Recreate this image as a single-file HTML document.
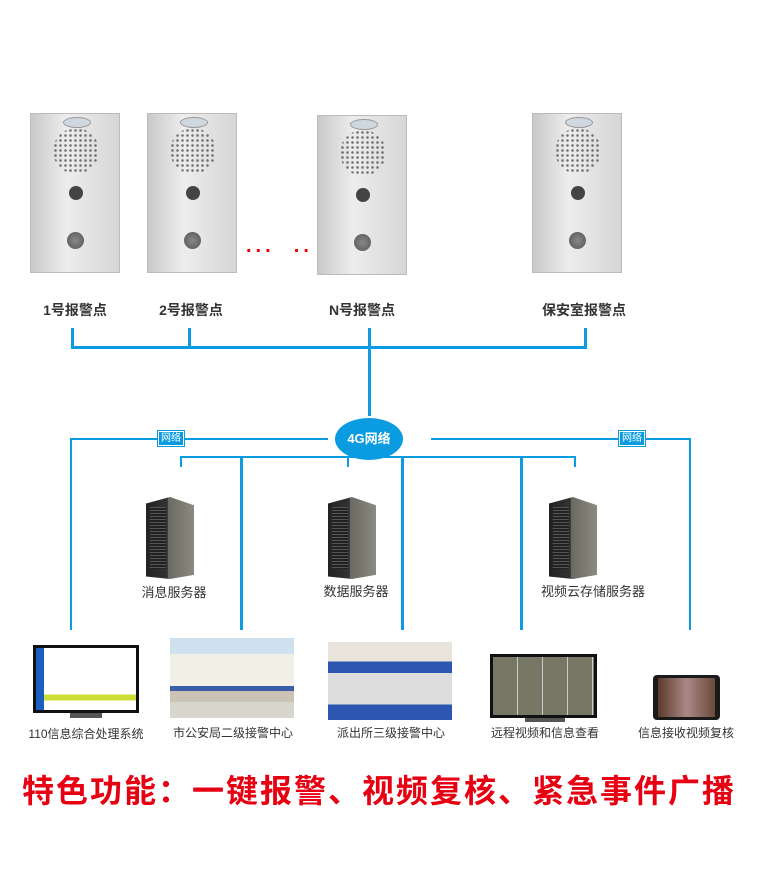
<!DOCTYPE html>
<html><head><meta charset="utf-8"><style>
body{margin:0;width:777px;height:896px;background:#fff;position:relative;overflow:hidden;font-family:"Liberation Sans","Noto Sans CJK SC",sans-serif}
.a{position:absolute}
.panel{position:absolute;width:90px;height:160px;background:linear-gradient(90deg,#c9c9c9,#ededed 40%,#d6d6d6);border:1px solid #bbb;box-sizing:border-box}
.spk{position:absolute;left:22px;top:14px;width:46px;height:46px;border-radius:50%;background:radial-gradient(circle,#555 1px,transparent 1.6px) 0 0/5px 5px;opacity:.8}
.cam{position:absolute;left:38px;top:72px;width:14px;height:14px;border-radius:50%;background:#444}
.btn{position:absolute;left:36px;top:118px;width:17px;height:17px;border-radius:50%;background:radial-gradient(circle,#888,#555);}
.logo{position:absolute;left:32px;top:3px;width:26px;height:9px;border-radius:50%;background:#cfd8e0;border:1px solid #999}
.lbl{position:absolute;font-size:14px;font-weight:bold;color:#333;transform:translateX(-50%);white-space:nowrap}
.sl{position:absolute;font-size:13px;color:#333;transform:translateX(-50%);white-space:nowrap}
.b{position:absolute;background:#0a9be0}
.srv{position:absolute;width:48px;height:82px;background:linear-gradient(90deg,#222 0,#333 45%,#6a6a62 46%,#8a8a80 100%);clip-path:polygon(0 8%,50% 0,100% 10%,100% 95%,50% 100%,0 97%)}
.srv:after{content:"";position:absolute;left:4px;top:10px;width:16px;height:62px;background:repeating-linear-gradient(#555 0 1px,#222 1px 3px)}
.net{position:absolute;background:#0a9be0;color:#fff;font-size:10px;padding:0 2px;line-height:13px;border:1px solid #fff;outline:1px solid #0a9be0}
</style></head><body>
<div class="panel" style="left:30px;top:113px"><div class="logo"></div><div class="spk"></div><div class="cam"></div><div class="btn"></div></div>
<div class="panel" style="left:147px;top:113px"><div class="logo"></div><div class="spk"></div><div class="cam"></div><div class="btn"></div></div>
<div class="panel" style="left:317px;top:115px"><div class="logo"></div><div class="spk"></div><div class="cam"></div><div class="btn"></div></div>
<div class="panel" style="left:532px;top:113px"><div class="logo"></div><div class="spk"></div><div class="cam"></div><div class="btn"></div></div>
<div class="a" style="left:246px;top:243px;color:#e00;font-size:20px;font-weight:bold;line-height:6px;letter-spacing:4px">...&nbsp;&nbsp;..</div>
<div class="lbl" style="left:75px;top:300px">1号报警点</div>
<div class="lbl" style="left:191px;top:300px">2号报警点</div>
<div class="lbl" style="left:362px;top:300px">N号报警点</div>
<div class="lbl" style="left:584px;top:300px">保安室报警点</div>
<div class="b" style="left:71px;top:328px;width:3px;height:21px"></div>
<div class="b" style="left:188px;top:328px;width:3px;height:21px"></div>
<div class="b" style="left:368px;top:328px;width:3px;height:88px"></div>
<div class="b" style="left:584px;top:328px;width:3px;height:21px"></div>
<div class="b" style="left:71px;top:346px;width:516px;height:3px"></div>
<div class="a" style="left:335px;top:418px;width:68px;height:42px;border-radius:50%;background:#0a9be0;color:#fff;font-weight:bold;font-size:13px;text-align:center;line-height:42px">4G网络</div>
<div class="b" style="left:70px;top:438px;width:258px;height:2px"></div>
<div class="b" style="left:431px;top:438px;width:260px;height:2px"></div>
<div class="b" style="left:70px;top:438px;width:2px;height:192px"></div>
<div class="b" style="left:689px;top:438px;width:2px;height:192px"></div>
<div class="net" style="left:158px;top:431px">网络</div>
<div class="net" style="left:619px;top:431px">网络</div>
<div class="b" style="left:180px;top:456px;width:396px;height:2px"></div>
<div class="b" style="left:368px;top:448px;width:2px;height:9px"></div>
<div class="b" style="left:180px;top:456px;width:2px;height:11px"></div>
<div class="b" style="left:347px;top:456px;width:2px;height:11px"></div>
<div class="b" style="left:574px;top:456px;width:2px;height:11px"></div>
<div class="b" style="left:240px;top:456px;width:3px;height:174px"></div>
<div class="b" style="left:401px;top:456px;width:3px;height:174px"></div>
<div class="b" style="left:520px;top:456px;width:3px;height:174px"></div>
<div class="srv" style="left:146px;top:497px"></div>
<div class="srv" style="left:328px;top:497px"></div>
<div class="srv" style="left:549px;top:497px"></div>
<div class="sl" style="left:174px;top:582px">消息服务器</div>
<div class="sl" style="left:356px;top:581px">数据服务器</div>
<div class="sl" style="left:593px;top:581px">视频云存储服务器</div>
<div class="a" style="left:33px;top:645px;width:106px;height:68px;background:#111;padding:3px;box-sizing:border-box"><div style="position:relative;width:100%;height:100%;background:linear-gradient(#fff 0 75%,#cd3 75% 85%,#fff 85%)"><div style="position:absolute;left:0;top:0;width:8px;height:100%;background:#1a5fc0"></div></div></div>
<div class="a" style="left:70px;top:713px;width:32px;height:5px;background:#555"></div>
<div class="a" style="left:170px;top:638px;width:124px;height:80px;background:linear-gradient(#cfe0ef 0 20%,#f1efe6 20% 60%,#3b5ea8 60% 66%,#c9c2b5 66% 80%,#d8d5cc 80%)"></div>
<div class="a" style="left:328px;top:642px;width:124px;height:78px;background:linear-gradient(#e8e4dc 0 25%,#2c56b0 25% 40%,#ddd 40% 80%,#2c56b0 80% 100%)"></div>
<div class="a" style="left:490px;top:654px;width:107px;height:64px;background:#111;padding:3px;box-sizing:border-box"><div style="width:100%;height:100%;background:repeating-linear-gradient(90deg,#776 0 24px,#ccc 24px 25px),#888"></div></div>
<div class="a" style="left:525px;top:718px;width:40px;height:4px;background:#555"></div>
<div class="a" style="left:653px;top:675px;width:67px;height:45px;background:#1a1a1a;border-radius:4px;padding:3px 5px;box-sizing:border-box"><div style="width:100%;height:100%;background:linear-gradient(90deg,#5a3a2a,#a88,#6a4a3a)"></div></div>
<div class="sl" style="left:86px;top:725px;font-size:12px">110信息综合处理系统</div>
<div class="sl" style="left:233px;top:724px;font-size:12px">市公安局二级接警中心</div>
<div class="sl" style="left:391px;top:724px;font-size:12px">派出所三级接警中心</div>
<div class="sl" style="left:545px;top:724px;font-size:12px">远程视频和信息查看</div>
<div class="sl" style="left:686px;top:724px;font-size:12px">信息接收视频复核</div>
<div class="a" style="left:22px;top:766px;font-size:32px;font-weight:bold;color:#e60012;letter-spacing:2px;white-space:nowrap">特色功能：一键报警、视频复核、紧急事件广播</div>
</body></html>
